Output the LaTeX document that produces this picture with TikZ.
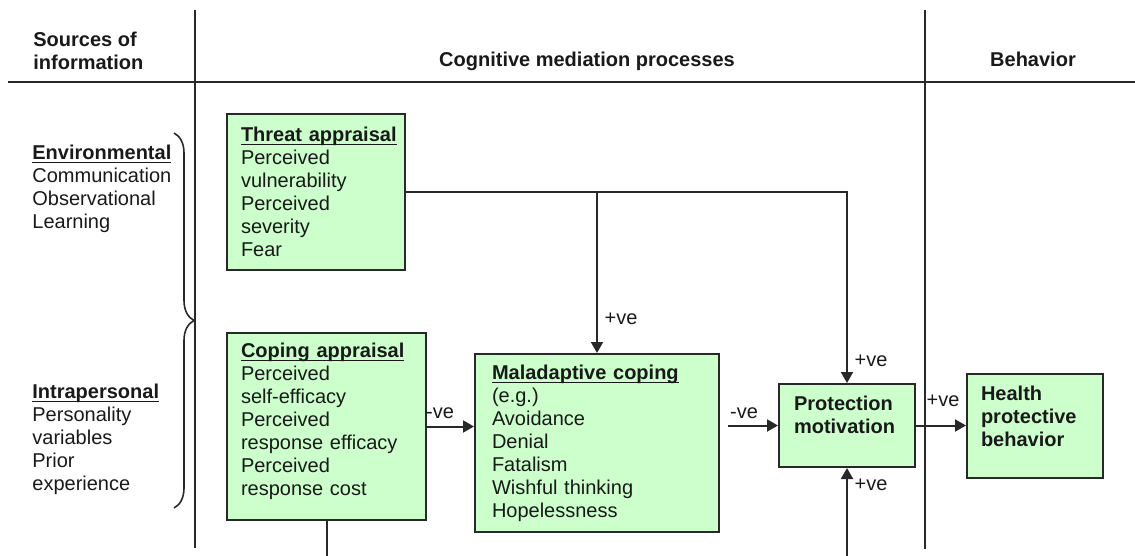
\documentclass[tikz,border=0pt]{standalone}
\usepackage{fontspec}
\setmainfont{Liberation Sans}
\usetikzlibrary{arrows.meta,decorations.pathreplacing}
\definecolor{boxgreen}{RGB}{204,255,204}
\definecolor{linegray}{RGB}{40,40,40}
\newcommand{\diafont}{\fontsize{10}{11.5}\selectfont}
\newcommand{\boxtitle}[1]{\underline{\raisebox{0pt}[\height][0pt]{\textbf{#1}}}}

\begin{document}
\begin{tikzpicture}[x=0.5pt, y=-0.5pt,
    font=\diafont, text=black!90,
    box/.style={draw=linegray, line width=1pt, fill=boxgreen, anchor=north west, align=left, inner xsep=7pt, inner ysep=0pt},
    rule/.style={draw=linegray, line width=1pt},
    link/.style={draw=linegray, line width=1pt, -{Triangle[length=5.5pt,width=6pt]}},
    head/.style={font=\diafont\bfseries, inner sep=0pt},
    sign/.style={inner sep=0pt}
  ]
  \useasboundingbox (0,0) rectangle (1135,556);

  % Column rules
  \draw[rule] (8,82) -- (1135,82);
  \draw[rule] (195,10) -- (195,548);
  \draw[rule] (925,10) -- (925,549);

  % Column headings
  \node[head, anchor=north west, align=left] (hsrc) at (33,32) {Sources of\\information};
  \node[head, anchor=base] (hcog) at (587,67) {Cognitive mediation processes};
  \node[head, anchor=base] (hbeh) at (1033,67) {Behavior};

  % Sources of information
  \node[anchor=north west, align=left, inner sep=0pt] (env) at (32,145) {\boxtitle{Environmental}\\Communication\\Observational\\Learning};
  \node[anchor=north west, align=left, inner sep=0pt] (intra) at (32,384) {\boxtitle{Intrapersonal}\\Personality\\variables\\Prior\\experience};
  \draw[linegray, line width=0.8pt, decorate, decoration={brace, amplitude=10pt}] (174,133) -- (174,508);

  % Appraisal and coping boxes
  \node[box, minimum width=89pt, minimum height=78pt, text width=75pt] (threat) at (226,113)
    {\boxtitle{Threat appraisal}\\Perceived\\vulnerability\\Perceived\\severity\\Fear};
  \node[box, minimum width=99.5pt, minimum height=93.5pt, text width=85.5pt, text depth=76pt] (coping) at (226,332)
    {\boxtitle{Coping appraisal}\\Perceived\\self-efficacy\\Perceived\\response efficacy\\Perceived\\response cost};
  \node[box, inner xsep=8.5pt, minimum width=122pt, minimum height=89pt, text width=105pt] (mal) at (474,353)
    {\boxtitle{Maladaptive coping}\\(e.g.)\\Avoidance\\Denial\\Fatalism\\Wishful thinking\\Hopelessness};
  \node[box, font=\diafont\bfseries, minimum width=68pt, minimum height=41.5pt, text width=53pt, text depth=22.2pt] (pm) at (778,383)
    {Protection\\motivation};
  \node[box, font=\diafont\bfseries, minimum width=68pt, minimum height=52pt, text width=54pt, text depth=33pt] (health) at (966,373)
    {Health\\protective\\behavior};

  % Connectors
  \coordinate (malout) at ([xshift=4pt]mal.east |- pm.west);
  \coordinate (copebot) at (coping.south |- 0,556);
  \coordinate (pmbot) at (pm.south |- 0,556);
  \draw[link] (threat.east) -| (pm.north);
  \draw[link] (mal.north |- threat.east) -- (mal.north);
  \draw[link] (coping.east) -- (mal.west |- coping.east);
  \draw[link] (malout) -- (pm.west);
  \draw[link] (pm.east) -- (health.west |- pm.east);
  \draw[rule] (coping.south) -- (copebot);
  \draw[link] (pmbot) -- (pm.south);

  % Signs
  \node[sign] (s1) at (621,319) {+ve};
  \node[sign] (s2) at (440,413) {-ve};
  \node[sign] (s3) at (871,361) {+ve};
  \node[sign] (s4) at (744,413) {-ve};
  \node[sign] (s5) at (943,401) {+ve};
  \node[sign] (s6) at (871,485) {+ve};
\end{tikzpicture}
\end{document}
